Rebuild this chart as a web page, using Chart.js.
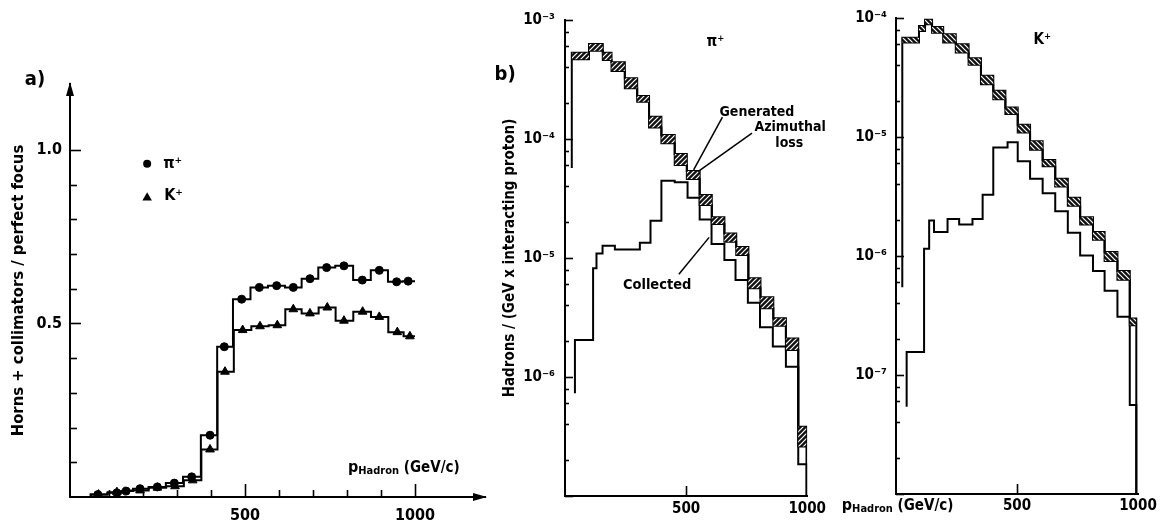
<!DOCTYPE html>
<html><head><meta charset="utf-8">
<script src="https://cdn.jsdelivr.net/npm/chart.js@4.4.1/dist/chart.umd.min.js"></script>
<style>
html,body{margin:0;padding:0;background:#fff;}
#wrap{position:relative;width:1160px;height:525px;overflow:hidden;background:#fff;}
canvas{position:absolute;top:0;}
#ca{left:0;width:520px;height:525px;}
#cb{left:430px;width:400px;height:525px;}
#cc{left:830px;width:330px;height:525px;}
</style></head><body>
<div id="wrap">
<canvas id="ca" width="520" height="525"></canvas>
<canvas id="cb" width="400" height="525"></canvas>
<canvas id="cc" width="330" height="525"></canvas>
</div>
<script>
// ---------- Panel a) : ratio horns+collimators / perfect focus ----------
const aPiP     = [67,123,150,191,242,292,343,397,439,490,542,593,642,691,740,791,845,895,946,980];
const aPiRatio = [0.007,0.012,0.017,0.024,0.029,0.040,0.058,0.178,0.433,0.570,0.604,0.609,0.604,0.629,0.661,0.666,0.625,0.653,0.620,0.622];
const aKP      = [69,123,191,242,294,346,397,441,493,544,595,642,691,742,791,846,895,948,985];
const aKRatio  = [0.007,0.014,0.019,0.027,0.031,0.048,0.137,0.361,0.481,0.492,0.495,0.541,0.529,0.546,0.508,0.534,0.519,0.475,0.463];
const aHistRange = [46, 1000];
const aXRange = [-15, 1206];
const aYRange = [0, 1.19];
const aXTicks = [100,200,300,400,500,600,700,800,900,1000];
const aXTickLabels = ['','','','','500','','','','','1000'];
const aYTicks = [0.1,0.2,0.3,0.4,0.5,0.6,0.7,0.8,0.9,1.0];
const aYTickLabels = ['','','','','0.5','','','','','1.0'];
const aYTitle = 'Horns + collimators / perfect focus';

// ---------- Panel b) : pi+ spectra ----------
const piEdges     = [28,99,156,192,247,298,347,398,453,503,556,606,658,707,757,807,860,912,963,997];
const piGenerated = [5.31e-4,6.29e-4,5.31e-4,4.41e-4,3.24e-4,2.30e-4,1.54e-4,1.08e-4,7.48e-5,5.38e-5,3.38e-5,2.20e-5,1.61e-5,1.24e-5,6.75e-6,4.68e-6,3.11e-6,2.11e-6,3.82e-7];
const piAfterLoss = [4.67e-4,5.52e-4,4.61e-4,3.73e-4,2.67e-4,2.06e-4,1.25e-4,9.20e-5,6.05e-5,4.61e-5,2.79e-5,1.93e-5,1.37e-5,1.06e-5,5.56e-6,3.78e-6,2.69e-6,1.69e-6,2.60e-7];
const piGenStart  = 5.7e-5;
const piColEdges  = [41,116,130,155,206,309,353,398,453,506,556,605,658,704,755,805,858,912,963,998];
const piCollected = [2.05e-6,8.19e-6,1.09e-5,1.27e-5,1.18e-5,1.34e-5,2.06e-5,4.46e-5,4.33e-5,3.21e-5,2.11e-5,1.31e-5,9.62e-6,6.53e-6,4.21e-6,2.62e-6,1.80e-6,1.22e-6,1.85e-7];
const piColStart  = 7.3e-7;
const bXRange = [0, 1000];
const bYRange = [1e-7, 1e-3];
const bXTicks = [500, 1000];
const bXTickLabels = ['500','1000'];
const bYTicks = [1e-3,1e-4,1e-5,1e-6];
const bYTickLabels = ['10\u207B\u00B3','10\u207B\u2074','10\u207B\u2075','10\u207B\u2076'];
const bYTitle = 'Hadrons / (GeV x interacting proton)';

// ---------- Panel K+ ----------
const kEdges     = [26,95,120,149,195,247,300,351,402,452,503,554,606,658,710,761,814,862,915,966,993];
const kGenerated = [6.84e-5,8.57e-5,9.68e-5,8.41e-5,7.30e-5,6.02e-5,4.59e-5,3.27e-5,2.45e-5,1.77e-5,1.27e-5,9.19e-6,6.41e-6,4.45e-6,3.08e-6,2.12e-6,1.59e-6,1.08e-6,7.47e-7,2.98e-7];
const kAfterLoss = [6.21e-5,7.78e-5,8.86e-5,7.53e-5,6.21e-5,5.12e-5,4.04e-5,2.78e-5,2.08e-5,1.56e-5,1.09e-5,7.83e-6,5.68e-6,3.83e-6,2.65e-6,1.84e-6,1.37e-6,9.06e-7,6.33e-7,2.62e-7];
const kGenStart  = 5.46e-7;
const kColEdges  = [44,116,137,157,213,261,316,358,402,461,503,554,606,658,710,761,814,862,915,966,993];
const kCollected = [1.56e-7,1.15e-6,1.99e-6,1.59e-6,2.05e-6,1.84e-6,2.05e-6,3.27e-6,8.18e-6,9.02e-6,6.24e-6,4.45e-6,3.37e-6,2.38e-6,1.57e-6,1.01e-6,7.47e-7,5.10e-7,3.08e-7,5.60e-8];
const kColStart  = 5.4e-8;
const cYRange = [1e-8, 1e-4];
const cYTicks = [1e-4,1e-5,1e-6,1e-7];
const cYTickLabels = ['10\u207B\u2074','10\u207B\u2075','10\u207B\u2076','10\u207B\u2077'];

const FONT = '"DejaVu Sans Condensed", "Liberation Sans Narrow", "DejaVu Sans", sans-serif';

// ---------- helpers ----------
function stepPts(edges, vals, start, end) {
  const pts = [];
  if (start !== undefined) pts.push({x: edges[0], y: start});
  vals.forEach((v, i) => pts.push({x: edges[i], y: v}));
  pts.push({x: edges[edges.length - 1], y: vals[vals.length - 1]});
  if (end !== undefined) pts.push({x: edges[edges.length - 1], y: end});
  return pts;
}
function midSteps(xs, ys, range, base) {
  const pts = [{x: range[0], y: base}, {x: range[0], y: ys[0]}];
  xs.forEach((x, i) => pts.push({x, y: ys[i]}));
  pts.push({x: range[1], y: ys[ys.length - 1]});
  return pts;
}
function logMinor(lo, hi) {
  const out = [];
  for (let e = Math.round(Math.log10(lo)); e < Math.round(Math.log10(hi)); e++)
    [2,4,6,8].forEach(m => out.push(m * Math.pow(10, e)));
  return out;
}
function hatch(dir) {
  const s = 5, c = document.createElement('canvas');
  c.width = s; c.height = s;
  const g = c.getContext('2d');
  g.fillStyle = '#111'; g.fillRect(0, 0, s, s);
  g.strokeStyle = '#fff'; g.lineWidth = 1.2; g.beginPath();
  if (dir > 0) {
    g.moveTo(-1, s + 1); g.lineTo(s + 1, -1);
    g.moveTo(-1, 1); g.lineTo(1, -1);
    g.moveTo(s - 1, s + 1); g.lineTo(s + 1, s - 1);
  } else {
    g.moveTo(-1, -1); g.lineTo(s + 1, s + 1);
    g.moveTo(s - 1, -1); g.lineTo(s + 1, 1);
    g.moveTo(-1, s - 1); g.lineTo(1, s + 1);
  }
  g.stroke();
  return g.createPattern(c, 'repeat');
}

const insideTicks = {
  id: 'insideTicks',
  afterDraw(chart, args, opts) {
    const ctx = chart.ctx, {left, bottom} = chart.chartArea;
    ctx.save(); ctx.strokeStyle = '#000'; ctx.lineWidth = 1.6;
    (opts.y || []).forEach(t => {
      const py = Math.round(chart.scales.y.getPixelForValue(t[0])) + 0.5;
      ctx.beginPath(); ctx.moveTo(left, py); ctx.lineTo(left + t[1], py); ctx.stroke();
    });
    (opts.x || []).forEach(t => {
      const px = Math.round(chart.scales.x.getPixelForValue(t[0])) + 0.5;
      ctx.beginPath(); ctx.moveTo(px, bottom); ctx.lineTo(px, bottom - t[1]); ctx.stroke();
    });
    ctx.restore();
  }
};

const arrows = {
  id: 'arrows',
  afterDraw(chart, args, opts) {
    if (!opts.on) return;
    const ctx = chart.ctx, {left, top, right, bottom} = chart.chartArea;
    ctx.save(); ctx.fillStyle = '#000';
    ctx.beginPath(); ctx.moveTo(left, top - 2); ctx.lineTo(left - 4, top + 12); ctx.lineTo(left + 4, top + 12); ctx.closePath(); ctx.fill();
    ctx.beginPath(); ctx.moveTo(right + 2, bottom); ctx.lineTo(right - 12, bottom - 4); ctx.lineTo(right - 12, bottom + 4); ctx.closePath(); ctx.fill();
    ctx.restore();
  }
};

const notes = {
  id: 'notes',
  afterDraw(chart, args, opts) {
    const ctx = chart.ctx, xs = chart.scales.x, ys = chart.scales.y;
    const P = (x, y) => [xs.getPixelForValue(x), ys.getPixelForValue(y)];
    ctx.save(); ctx.fillStyle = '#000'; ctx.strokeStyle = '#000';
    (opts.lines || []).forEach(l => {
      const a = P(l[0], l[1]), b = P(l[2], l[3]);
      ctx.lineWidth = 1.5; ctx.beginPath(); ctx.moveTo(a[0], a[1]); ctx.lineTo(b[0], b[1]); ctx.stroke();
    });
    (opts.texts || []).forEach(t => {
      const [px, py] = P(t.x, t.y);
      ctx.font = 'bold ' + t.size + 'px ' + FONT;
      ctx.textAlign = t.align || 'left'; ctx.textBaseline = 'middle';
      ctx.fillText(t.text, px, py);
    });
    (opts.marks || []).forEach(m => {
      const [px, py] = P(m.x, m.y);
      ctx.beginPath();
      if (m.style === 'circle') ctx.arc(px, py, m.r, 0, Math.PI * 2);
      else { for (let k = 0; k < 3; k++) { const a = k * 2 * Math.PI / 3; const fx = px + Math.sin(a) * m.r, fy = py - Math.cos(a) * m.r; k ? ctx.lineTo(fx, fy) : ctx.moveTo(fx, fy); } ctx.closePath(); }
      ctx.fill();
    });
    (opts.pLabels || []).forEach(p => {
      let [px, py] = P(p.x, p.y);
      ctx.textAlign = 'left'; ctx.textBaseline = 'alphabetic';
      ctx.font = 'bold 16px ' + FONT; ctx.fillText('p', px, py + 5); px += ctx.measureText('p').width;
      ctx.font = 'bold 11px ' + FONT; ctx.fillText('Hadron', px, py + 7); px += ctx.measureText('Hadron').width;
      ctx.font = 'bold 15px ' + FONT; ctx.fillText(' (GeV/c)', px, py + 5);
    });
    ctx.restore();
  }
};

const tickFont = {family: FONT, size: 15, weight: 'bold'};
const axisBorder = {display: true, color: '#000', width: 2};
const noGrid = {display: false, drawTicks: false};
const base = {responsive: false, animation: false, events: []};
const line = (data, extra) => Object.assign({data, borderColor: '#000', borderWidth: 2, pointRadius: 0, fill: false}, extra || {});

// ---------- chart a ----------
new Chart(document.getElementById('ca'), {
  type: 'line',
  data: {datasets: [
    line(aPiP.map((x, i) => ({x, y: aPiRatio[i]})), {showLine: false, pointRadius: 4, pointStyle: 'circle', backgroundColor: '#000', borderWidth: 1}),
    line(aKP.map((x, i) => ({x, y: aKRatio[i]})), {showLine: false, pointRadius: 5, pointStyle: 'triangle', backgroundColor: '#000', borderWidth: 1}),
    line(midSteps(aPiP, aPiRatio, aHistRange, aYRange[0]), {stepped: 'middle'}),
    line(midSteps(aKP, aKRatio, aHistRange, aYRange[0]), {stepped: 'middle'})
  ]},
  options: Object.assign({}, base, {
    layout: {padding: {left: 0, right: 35, top: 84, bottom: 0}},
    plugins: {
      legend: {display: false}, tooltip: {enabled: false},
      arrows: {on: true},
      insideTicks: {
        y: aYTicks.map((v, i) => [v, aYTickLabels[i] ? 11 : 7]),
        x: aXTicks.map((v, i) => [v, aXTickLabels[i] ? 13 : 7])
      },
      notes: {
        texts: [
          {text: 'a)', x: -118, y: 1.202, size: 20, align: 'center'},
          {text: '\u03C0\u207A', x: 259, y: 0.96, size: 16},
          {text: 'K\u207A', x: 262, y: 0.867, size: 16}
        ],
        marks: [{style: 'circle', x: 212, y: 0.96, r: 4}, {style: 'triangle', x: 212, y: 0.862, r: 5.5}],
        pLabels: [{x: 803, y: 0.086}]
      }
    },
    scales: {
      x: {type: 'linear', min: aXRange[0], max: aXRange[1], grid: noGrid, border: axisBorder,
          ticks: {autoSkip: false, maxRotation: 0, padding: 9, color: '#000', font: {family: FONT, size: 16, weight: 'bold'}, callback: (v, i) => aXTickLabels[i]},
          afterBuildTicks: s => { s.ticks = aXTicks.map(v => ({value: v})); },
          afterFit: s => { s.height = 28; }},
      y: {min: aYRange[0], max: aYRange[1], grid: noGrid, border: axisBorder,
          ticks: {autoSkip: false, padding: 8, color: '#000', font: {family: FONT, size: 16, weight: 'bold'}, callback: (v, i) => aYTickLabels[i]},
          afterBuildTicks: s => { s.ticks = aYTicks.map(v => ({value: v})); },
          afterFit: s => { s.width = 70; },
          title: {display: true, text: aYTitle, color: '#000', font: {family: FONT, size: 16.5, weight: 'bold'}, padding: {top: 9, bottom: 0}}}
    }
  }),
  plugins: [insideTicks, arrows, notes]
});

// ---------- chart b ----------
new Chart(document.getElementById('cb'), {
  type: 'line',
  data: {datasets: [
    line(stepPts(piEdges, piGenerated), {stepped: 'before', borderWidth: 0, borderColor: 'rgba(0,0,0,0)', fill: '+1', backgroundColor: hatch(1)}),
    line(stepPts(piEdges, piAfterLoss), {stepped: 'before'}),
    line(stepPts(piEdges, piGenerated, piGenStart, bYRange[0]), {stepped: 'before'}),
    line(stepPts(piColEdges, piCollected, piColStart, bYRange[0]), {stepped: 'before'})
  ]},
  options: Object.assign({}, base, {
    layout: {padding: {left: 0, right: 22, top: 20, bottom: 0}},
    plugins: {
      legend: {display: false}, tooltip: {enabled: false},
      insideTicks: {
        y: bYTicks.concat([bYRange[0]]).map(v => [v, 8]).concat(logMinor(bYRange[0], bYRange[1]).map(v => [v, 4])),
        x: [[bXTicks[0], 10]]
      },
      notes: {
        texts: [
          {text: 'b)', x: -247, y: 3.45e-4, size: 20, align: 'center'},
          {text: '\u03C0\u207A', x: 621, y: 6.54e-4, size: 15, align: 'center'},
          {text: 'Generated', x: 638, y: 1.67e-4, size: 14},
          {text: 'Azimuthal', x: 782, y: 1.26e-4, size: 14},
          {text: 'loss', x: 926, y: 9.24e-5, size: 14, align: 'center'},
          {text: 'Collected', x: 239, y: 5.93e-6, size: 14.5}
        ],
        lines: [
          [650, 1.53e-4, 531, 5.5e-5],
          [772, 1.12e-4, 549, 5.31e-5],
          [470, 7.3e-6, 595, 1.49e-5]
        ]
      }
    },
    scales: {
      x: {type: 'linear', min: bXRange[0], max: bXRange[1], grid: noGrid, border: axisBorder,
          ticks: {autoSkip: false, maxRotation: 0, padding: 4, color: '#000', font: tickFont, callback: (v, i) => bXTickLabels[i]},
          afterBuildTicks: s => { s.ticks = bXTicks.map(v => ({value: v})); },
          afterFit: s => { s.height = 29; }},
      y: {type: 'logarithmic', min: bYRange[0], max: bYRange[1], grid: noGrid, border: axisBorder,
          ticks: {autoSkip: false, padding: 10, color: '#000', font: tickFont, callback: (v, i) => bYTickLabels[i]},
          afterBuildTicks: s => { s.ticks = bYTicks.map(v => ({value: v})); },
          afterFit: s => { s.width = 135; },
          title: {display: true, text: bYTitle, color: '#000', font: {family: FONT, size: 15, weight: 'bold'}, padding: {top: 71, bottom: 0}}}
    }
  }),
  plugins: [insideTicks, notes]
});

// ---------- chart K+ ----------
new Chart(document.getElementById('cc'), {
  type: 'line',
  data: {datasets: [
    line(stepPts(kEdges, kGenerated), {stepped: 'before', borderWidth: 0, borderColor: 'rgba(0,0,0,0)', fill: '+1', backgroundColor: hatch(-1)}),
    line(stepPts(kEdges, kAfterLoss), {stepped: 'before'}),
    line(stepPts(kEdges, kGenerated, kGenStart, cYRange[0]), {stepped: 'before'}),
    line(stepPts(kColEdges, kCollected, kColStart, cYRange[0]), {stepped: 'before'})
  ]},
  options: Object.assign({}, base, {
    layout: {padding: {left: 0, right: 22, top: 17, bottom: 0}},
    plugins: {
      legend: {display: false}, tooltip: {enabled: false},
      insideTicks: {
        y: cYTicks.concat([cYRange[0]]).map(v => [v, 8]).concat(logMinor(cYRange[0], cYRange[1]).map(v => [v, 4])),
        x: [[bXTicks[0], 10]]
      },
      notes: {
        texts: [{text: 'K\u207A', x: 605, y: 6.54e-5, size: 15, align: 'center'}],
        pLabels: [{x: -224, y: 8.1e-9}]
      }
    },
    scales: {
      x: {type: 'linear', min: bXRange[0], max: bXRange[1], grid: noGrid, border: axisBorder,
          ticks: {autoSkip: false, maxRotation: 0, padding: 3, color: '#000', font: tickFont, callback: (v, i) => bXTickLabels[i]},
          afterBuildTicks: s => { s.ticks = bXTicks.map(v => ({value: v})); },
          afterFit: s => { s.height = 31; }},
      y: {type: 'logarithmic', min: cYRange[0], max: cYRange[1], grid: noGrid, border: axisBorder,
          ticks: {autoSkip: false, padding: 9, color: '#000', font: tickFont, callback: (v, i) => cYTickLabels[i]},
          afterBuildTicks: s => { s.ticks = cYTicks.map(v => ({value: v})); },
          afterFit: s => { s.width = 66; }}
    }
  }),
  plugins: [insideTicks, notes]
});
</script>
</body></html>
